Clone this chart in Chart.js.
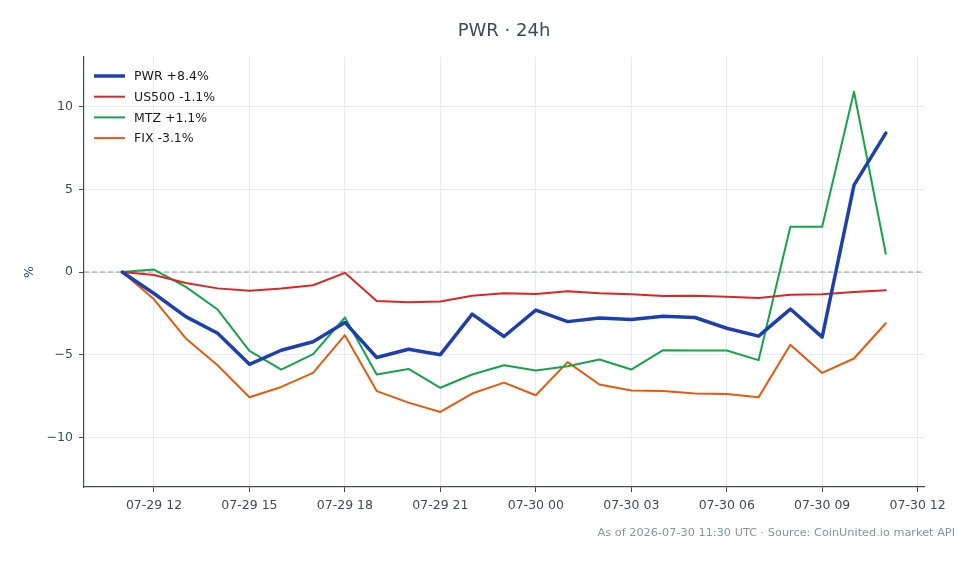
<!DOCTYPE html>
<html>
<head>
<meta charset="utf-8">
<script src="https://cdn.jsdelivr.net/npm/chart.js@4.4.1/dist/chart.umd.min.js"></script>
<style>
  html, body { margin: 0; padding: 0; background: #ffffff; }
  #wrap { width: 979px; height: 564px; }
</style>
</head>
<body>
<div id="wrap"><canvas id="pwr-chart" width="979" height="564"></canvas></div>
<script>
// hours counted from 07-29 00:00 UTC
var hours = [11, 12, 13, 14, 15, 16, 17, 18, 19, 20, 21, 22, 23, 24, 25, 26, 27, 28, 29, 30, 31, 32, 33, 34, 35];
var pwr = [0, -1.3, -2.7, -3.7, -5.58, -4.73, -4.22, -3.05, -5.17, -4.67, -5.0, -2.55, -3.9, -2.3, -3.0, -2.78, -2.87, -2.67, -2.75, -3.4, -3.88, -2.24, -3.94, 5.25, 8.4];
var us500 = [0, -0.18, -0.67, -0.99, -1.13, -1.0, -0.8, -0.05, -1.75, -1.83, -1.78, -1.44, -1.29, -1.33, -1.17, -1.29, -1.35, -1.45, -1.43, -1.5, -1.57, -1.38, -1.35, -1.21, -1.1];
var mtz = [0, 0.15, -0.9, -2.27, -4.77, -5.9, -4.97, -2.75, -6.2, -5.86, -7.0, -6.2, -5.64, -5.96, -5.7, -5.29, -5.9, -4.73, -4.75, -4.75, -5.33, 2.73, 2.73, 10.9, 1.1];
var fix = [0, -1.65, -4.02, -5.64, -7.57, -6.95, -6.1, -3.82, -7.2, -7.9, -8.46, -7.35, -6.69, -7.45, -5.45, -6.8, -7.17, -7.2, -7.35, -7.38, -7.58, -4.4, -6.1, -5.23, -3.1];
var seriesNames = ['PWR +8.4%', 'US500 -1.1%', 'MTZ +1.1%', 'FIX -3.1%'];
var xTicks = [12, 15, 18, 21, 24, 27, 30, 33, 36];
var yTicks = [-10, -5, 0, 5, 10];

var FONT = "'DejaVu Sans', sans-serif";
var INK = '#3d4a5c';

function pts(arr) {
    return arr.map((v, i) => ({ x: hours[i], y: v }));
}

function hourLabel(v) {
    var day = v < 24 ? '07-29' : '07-30';
    var h = v % 24;
    return day + ' ' + (h < 10 ? '0' + h : '' + h);
}

var decor = {
    id: 'decor',
    beforeDatasetsDraw(chart) {
        var ctx = chart.ctx, a = chart.chartArea;
        var y0 = chart.scales.y.getPixelForValue(0);
        ctx.save();
        ctx.strokeStyle = '#8e9bb3';
        ctx.lineWidth = 1;
        ctx.setLineDash([5, 3]);
        ctx.beginPath();
        ctx.moveTo(a.left, y0);
        ctx.lineTo(a.right, y0);
        ctx.stroke();
        ctx.restore();
    },
    afterDraw(chart) {
        var ctx = chart.ctx, a = chart.chartArea;
        ctx.save();
        // title
        ctx.fillStyle = INK;
        ctx.font = '18px ' + FONT;
        ctx.textAlign = 'center';
        ctx.textBaseline = 'middle';
        ctx.fillText('PWR · 24h', (a.left + a.right) / 2, 31);
        // y label
        ctx.font = '12.5px ' + FONT;
        ctx.translate(30, (a.top + a.bottom) / 2);
        ctx.rotate(-Math.PI / 2);
        ctx.fillText('%', 0, 0);
        ctx.setTransform(1, 0, 0, 1, 0, 0);
        // footer
        ctx.fillStyle = '#8792a2';
        ctx.font = '11.3px ' + FONT;
        ctx.textAlign = 'right';
        ctx.fillText('As of 2026-07-30 11:30 UTC · Source: CoinUnited.io market API', 955, 533);
        // legend
        ctx.textAlign = 'left';
        ctx.font = '12.5px ' + FONT;
        chart.data.datasets.forEach((ds, i) => {
            var y = 76 + i * 20.7;
            ctx.strokeStyle = ds.borderColor;
            ctx.lineWidth = ds.borderWidth;
            ctx.beginPath();
            ctx.moveTo(a.left + 10, y);
            ctx.lineTo(a.left + 41, y);
            ctx.stroke();
            ctx.fillStyle = '#1a1a1a';
            ctx.fillText(ds.label, a.left + 50, y + 1);
        });
        ctx.restore();
    }
};

new Chart(document.getElementById('pwr-chart'), {
    type: 'line',
    data: {
        datasets: [
            { label: seriesNames[0], data: pts(pwr), borderColor: '#1e40af', borderWidth: 3.5, order: 1 },
            { label: seriesNames[1], data: pts(us500), borderColor: '#dc2626', borderWidth: 2, order: 2 },
            { label: seriesNames[2], data: pts(mtz), borderColor: '#16a34a', borderWidth: 2, order: 3 },
            { label: seriesNames[3], data: pts(fix), borderColor: '#ea580c', borderWidth: 2, order: 4 }
        ]
    },
    options: {
        responsive: false,
        animation: false,
        layout: { padding: { top: 57, right: 55, bottom: 0, left: 0 } },
        elements: {
            point: { radius: 0 },
            line: { tension: 0, borderJoinStyle: 'round', borderCapStyle: 'round' }
        },
        plugins: {
            legend: { display: false },
            tooltip: { enabled: false },
            title: { display: false }
        },
        scales: {
            x: {
                type: 'linear',
                min: 9.8,
                max: 36.2,
                afterFit: s => { s.height = 77; },
                afterBuildTicks: s => { s.ticks = xTicks.map(v => ({ value: v })); },
                grid: { color: '#e8ebef', tickColor: INK, tickLength: 5 },
                border: { color: INK, width: 1.2 },
                ticks: {
                    color: INK,
                    font: { family: FONT, size: 12.5 },
                    padding: 6,
                    maxRotation: 0,
                    callback: v => hourLabel(v)
                }
            },
            y: {
                min: -13,
                max: 13,
                afterFit: s => { s.width = 84; },
                afterBuildTicks: s => { s.ticks = yTicks.map(v => ({ value: v })); },
                grid: { color: '#e8ebef', tickColor: INK, tickLength: 5 },
                border: { color: INK, width: 1.2 },
                ticks: {
                    color: INK,
                    font: { family: FONT, size: 12.5 },
                    padding: 6,
                    callback: v => (v < 0 ? '\u2212' + Math.abs(v) : '' + v)
                }
            }
        }
    },
    plugins: [decor]
});
</script>
</body>
</html>
